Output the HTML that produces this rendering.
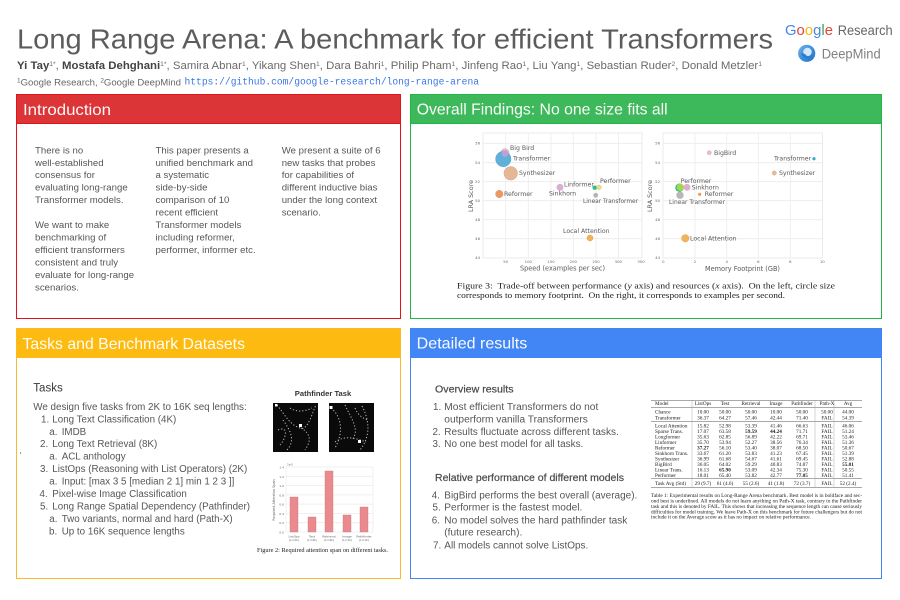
<!DOCTYPE html>
<html lang="en"><head><meta charset="utf-8"><title>Long Range Arena</title>
<style>
html,body{margin:0;padding:0;background:#fff}
svg{display:block}
text{font-family:"Liberation Sans",sans-serif;white-space:pre}
.b text{font-size:9.6px;fill:#565656;letter-spacing:.02px}
.l text{font-size:9.8px;fill:#565656}
.h{font-size:16px;fill:#fff;fill-opacity:.96}
.d text{font-family:"DejaVu Sans",sans-serif;font-size:6.2px;fill:#5a5a5a}
.t text,text.t{font-family:"DejaVu Sans",sans-serif;font-size:3.8px;fill:#666}
text.s,.s text{font-family:"Liberation Serif",serif;fill:#222}
.tb text{font-family:"Liberation Serif",serif;font-size:5.2px;fill:#222;text-anchor:middle}
.tb text.n{text-anchor:start}
.g{stroke:#ebebeb;stroke-width:.8;fill:none}
.pf{stroke:#bbb;stroke-width:1;fill:none;stroke-dasharray:1.2 2}
</style></head><body>
<svg width="900" height="600" viewBox="0 0 900 600" xmlns="http://www.w3.org/2000/svg">
<defs>
<filter id="blur" x="-5%" y="-5%" width="110%" height="110%"><feGaussianBlur stdDeviation=".3"/></filter>
<linearGradient id="dm" x1="0" y1="0" x2="1" y2="1"><stop offset="0" stop-color="#6db3ee"/><stop offset="1" stop-color="#1a6fc4"/></linearGradient>
</defs>
<rect width="900" height="600" fill="#fff"/>
<text x="17" y="48.5" font-size="27.5" fill="#5c5c5c" textLength="756" lengthAdjust="spacingAndGlyphs">Long Range Arena: A benchmark for efficient Transformers</text>
<text x="17" y="69" font-size="11" fill="#6a6a6a" textLength="745" lengthAdjust="spacingAndGlyphs"><tspan font-weight="bold" fill="#444">Yi Tay</tspan><tspan font-size="6.5" dy="-3">1*</tspan><tspan dy="3">, </tspan><tspan font-weight="bold" fill="#444">Mostafa Dehghani</tspan><tspan font-size="6.5" dy="-3">1*</tspan><tspan dy="3">, Samira Abnar</tspan><tspan font-size="6.5" dy="-3">1</tspan><tspan dy="3">, Yikang Shen</tspan><tspan font-size="6.5" dy="-3">1</tspan><tspan dy="3">, Dara Bahri</tspan><tspan font-size="6.5" dy="-3">1</tspan><tspan dy="3">, Philip Pham</tspan><tspan font-size="6.5" dy="-3">1</tspan><tspan dy="3">, Jinfeng Rao</tspan><tspan font-size="6.5" dy="-3">1</tspan><tspan dy="3">, Liu Yang</tspan><tspan font-size="6.5" dy="-3">1</tspan><tspan dy="3">, Sebastian Ruder</tspan><tspan font-size="6.5" dy="-3">2</tspan><tspan dy="3">, Donald Metzler</tspan><tspan font-size="6.5" dy="-3">1</tspan></text>
<text x="17" y="85.7" font-size="9.6" fill="#666" textLength="164" lengthAdjust="spacingAndGlyphs"><tspan font-size="6.5" dy="-3">1</tspan><tspan dy="3">Google Research, </tspan><tspan font-size="6.5" dy="-3">2</tspan><tspan dy="3">Google DeepMind</tspan></text>
<text x="184.5" y="84.7" style="font-family:'Liberation Mono',monospace" font-size="10" fill="#3b78e7" textLength="294.5" lengthAdjust="spacingAndGlyphs">https://github.com/google-research/long-range-arena</text>

<text x="785" y="35" font-size="14.5" textLength="48" lengthAdjust="spacingAndGlyphs"><tspan fill="#4285f4">G</tspan><tspan fill="#ea4335">o</tspan><tspan fill="#fbbc04">o</tspan><tspan fill="#4285f4">g</tspan><tspan fill="#34a853">l</tspan><tspan fill="#ea4335">e</tspan></text>
<text x="837.7" y="35" font-size="13.5" fill="#666" textLength="55" lengthAdjust="spacingAndGlyphs">Research</text>
<circle cx="806.7" cy="53.3" r="8.6" fill="url(#dm)"/><circle cx="807.5" cy="52" r="4.2" fill="#d5e7f8"/><path d="M801 53a6 6 0 0 0 11 2.5a5 5 0 0 1-7-1.5z" fill="#2a7fd0"/>
<text x="821.7" y="58.3" font-size="13.5" fill="#808080" textLength="59" lengthAdjust="spacingAndGlyphs">DeepMind</text>

<!-- panels -->
<rect x="16.5" y="94.5" width="384" height="224" fill="#fff" stroke="#e3121b"/>
<rect x="17" y="95" width="383" height="28" fill="#dc3538"/>
<path d="M17 123.5H400" stroke="#e3121b"/>
<text class="h" x="23" y="115" textLength="88" lengthAdjust="spacingAndGlyphs">Introduction</text>
<rect x="410.5" y="94.5" width="471" height="224" fill="#fff" stroke="#1fb847"/>
<rect x="411" y="95" width="470" height="28" fill="#3db85a"/>
<path d="M411 123.5H881" stroke="#1fb847"/>
<text class="h" x="416.7" y="114.7" textLength="251" lengthAdjust="spacingAndGlyphs">Overall Findings: No one size fits all</text>
<rect x="16.5" y="328.5" width="384" height="250" fill="#fff" stroke="#fcb92c"/>
<rect x="17" y="329" width="383" height="29" fill="#fdbb11"/>
<text class="h" x="22.5" y="349" textLength="222.5" lengthAdjust="spacingAndGlyphs">Tasks and Benchmark Datasets</text>
<rect x="410.5" y="328.5" width="471" height="250" fill="#fff" stroke="#4285f4"/>
<rect x="411" y="329" width="470" height="29" fill="#4285f4"/>
<text class="h" x="416.7" y="348.5" textLength="110.6" lengthAdjust="spacingAndGlyphs">Detailed results</text>

<!-- intro text -->
<g class="b">
<text x="35" y="153.3">There is no</text><text x="35" y="165.8">well-established</text><text x="35" y="178.2">consensus for</text><text x="35" y="190.7">evaluating long-range</text><text x="35" y="203.2">Transformer models.</text>
<text x="35" y="228">We want to make</text><text x="35" y="240.5">benchmarking of</text><text x="35" y="252.9">efficient transformers</text><text x="35" y="265.4">consistent and truly</text><text x="35" y="277.9">evaluate for long-range</text><text x="35" y="290.3">scenarios.</text>
<text x="155.5" y="153.3">This paper presents a</text><text x="155.5" y="165.8">unified benchmark and</text><text x="155.5" y="178.2">a systematic</text><text x="155.5" y="190.7">side-by-side</text><text x="155.5" y="203.2">comparison of 10</text><text x="155.5" y="215.6">recent efficient</text><text x="155.5" y="228">Transformer models</text><text x="155.5" y="240.5">including reformer,</text><text x="155.5" y="252.9">performer, informer etc.</text>
<text x="281.7" y="153.3">We present a suite of 6</text><text x="281.7" y="165.8">new tasks that probes</text><text x="281.7" y="178.2">for capabilities of</text><text x="281.7" y="190.7">different inductive bias</text><text x="281.7" y="203.2">under the long context</text><text x="281.7" y="215.6">scenario.</text>
</g>

<!-- left chart -->
<g filter="url(#blur)">
<rect x="483" y="133" width="159" height="125" fill="#fff" stroke="#ebebeb"/>
<path class="g" d="M505.7 133V258M528.3 133V258M551 133V258M573.3 133V258M596 133V258M618.3 133V258M483 143.3H642M483 162.7H642M483 181.7H642M483 200.7H642M483 219.7H642M483 238.7H642"/>
<g stroke-width=".5">
<circle cx="505" cy="152.7" r="4.2" fill="#f0b6dc" stroke="#cba"/>
<circle cx="503.3" cy="159" r="7.7" fill="#4ea8d8" fill-opacity=".9" stroke="#5b9ec6"/>
<circle cx="505" cy="153.5" r="3.4" fill="#b9a3d6"/>
<circle cx="510.7" cy="173.3" r="6.8" fill="#e5b797" stroke="#cfa88c"/>
<circle cx="499.3" cy="194" r="3.7" fill="#f0975a" stroke="#d88"/>
<circle cx="560" cy="187.3" r="3.2" fill="#e7a8d8" stroke="#bbb"/>
<circle cx="594.7" cy="187.7" r="2.2" fill="#2fbb8e"/>
<circle cx="599" cy="187.3" r="2.3" fill="#f2e26a" stroke="#bbb"/>
<circle cx="595.7" cy="195.3" r="2.4" fill="#b5b5b5"/>
<circle cx="590" cy="238" r="3" fill="#f3b456" stroke="#d4a050"/>
</g>
<g class="d">
<text x="510" y="150">Big Bird</text><text x="513" y="160.5">Transformer</text><text x="519" y="175">Synthesizer</text><text x="564" y="186.5">Linformer</text><text x="549" y="195.5">Sinkhorn</text><text x="504" y="196.2">Reformer</text><text x="600" y="183">Performer</text><text x="583" y="203" textLength="55" lengthAdjust="spacingAndGlyphs">Linear Transformer</text><text x="563" y="233">Local Attention</text>
<text x="520" y="270.5" style="font-size:6.8px" textLength="85" lengthAdjust="spacingAndGlyphs">Speed (examples per sec)</text>
<text transform="translate(473 196) rotate(-90)" text-anchor="middle" style="font-size:6.4px">LRA Score</text>
</g>
<g class="t" text-anchor="end"><text x="480" y="144.6">56</text><text x="480" y="164">54</text><text x="480" y="183">52</text><text x="480" y="202">50</text><text x="480" y="221">48</text><text x="480" y="240">46</text><text x="480" y="259">44</text></g>
<g class="t" text-anchor="middle"><text x="505.7" y="263">50</text><text x="528.3" y="263">100</text><text x="551" y="263">150</text><text x="573.3" y="263">200</text><text x="596" y="263">250</text><text x="618.3" y="263">300</text><text x="641" y="263">350</text></g>

<!-- right chart -->
<rect x="663" y="133" width="159.5" height="125" fill="#fff" stroke="#ebebeb"/>
<path class="g" d="M695 133V258M726.7 133V258M758.3 133V258M790.3 133V258M663 143.3H822M663 162.7H822M663 181.7H822M663 200.7H822M663 219.7H822M663 238.7H822"/>
<g stroke-width=".5">
<circle cx="709.3" cy="152.7" r="2" fill="#f0b6dc" stroke="#caa"/>
<circle cx="814" cy="158.7" r="1.6" fill="#3fa4d4"/>
<circle cx="774.3" cy="173" r="2.2" fill="#e5b797" stroke="#cba"/>
<circle cx="699.7" cy="194.3" r="1.6" fill="#f0975a"/>
<circle cx="687" cy="187.3" r="3.2" fill="#e7a8d8" stroke="#bbb"/>
<circle cx="679.5" cy="187.7" r="4.2" fill="#2fbb8e"/>
<circle cx="680.3" cy="187.3" r="3.7" fill="#a6d64f"/>
<circle cx="680" cy="195.3" r="3.7" fill="#b8b8b8"/>
<circle cx="685.3" cy="238.3" r="3.7" fill="#f3b456" stroke="#d4a050"/>
</g>
<g class="d">
<text x="714" y="154.8">BigBird</text><text x="774" y="160.3">Transformer</text><text x="779" y="175">Synthesizer</text><text x="680.7" y="183">Performer</text><text x="691.7" y="189.5">Sinkhorn</text><text x="704.7" y="196.2">Reformer</text><text x="669" y="204" textLength="56" lengthAdjust="spacingAndGlyphs">Linear Transformer</text><text x="690" y="240.5">Local Attention</text>
<text x="705" y="271" style="font-size:6.6px" textLength="75" lengthAdjust="spacingAndGlyphs">Memory Footprint (GB)</text>
<text transform="translate(652 196) rotate(-90)" text-anchor="middle" style="font-size:6.4px">LRA Score</text>
</g>
<g class="t" text-anchor="end"><text x="660" y="144.6">56</text><text x="660" y="164">54</text><text x="660" y="183">52</text><text x="660" y="202">50</text><text x="660" y="221">48</text><text x="660" y="240">46</text><text x="660" y="259">44</text></g>
<g class="t" text-anchor="middle"><text x="663.3" y="263">0</text><text x="695" y="263">2</text><text x="726.7" y="263">4</text><text x="758.3" y="263">6</text><text x="790.3" y="263">8</text><text x="822.3" y="263">10</text></g>
</g>
<text class="s" x="457" y="288.5" font-size="8.5" textLength="378" lengthAdjust="spacingAndGlyphs">Figure 3:  Trade-off between performance (<tspan font-style="italic">y</tspan> axis) and resources (<tspan font-style="italic">x</tspan> axis).  On the left, circle size</text>
<text class="s" x="457" y="298" font-size="8.5" textLength="328" lengthAdjust="spacingAndGlyphs">corresponds to memory footprint.  On the right, it corresponds to examples per second.</text>

<!-- tasks text -->
<g class="l">
<text x="33.3" y="391.7" style="font-size:11.5px;fill:#3a3a3a">Tasks</text>
<text x="33.3" y="410" textLength="213.4" lengthAdjust="spacingAndGlyphs">We design five tasks from 2K to 16K seq lengths:</text>
<text x="41" y="422.3">1.</text><text x="52.3" y="422.3">Long Text Classification (4K)</text>
<text x="49.3" y="435">a.</text><text x="61.7" y="435">IMDB</text>
<text x="40" y="447">2.</text><text x="52.3" y="447">Long Text Retrieval (8K)</text>
<text x="49.3" y="459.3">a.</text><text x="61.7" y="459.3">ACL anthology</text>
<text x="40" y="472">3.</text><text x="52.3" y="472">ListOps (Reasoning with List Operators) (2K)</text>
<text x="49.3" y="484.3">a.</text><text x="61.7" y="484.3">Input: [max 3 5 [median 2 1] min 1 2 3 ]]</text>
<text x="39.5" y="497">4.</text><text x="52.3" y="497">Pixel-wise Image Classification</text>
<text x="40" y="509.3">5.</text><text x="52.3" y="509.3">Long Range Spatial Dependency (Pathfinder)</text>
<text x="49.3" y="522">a.</text><text x="61.7" y="522">Two variants, normal and hard (Path-X)</text>
<text x="49" y="534.3">b.</text><text x="61.7" y="534.3">Up to 16K sequence lengths</text>
</g>
<rect x="20" y="452" width="1" height="2" fill="#999"/>

<!-- pathfinder -->
<text x="323" y="396" text-anchor="middle" font-size="7.6" font-weight="bold" fill="#333">Pathfinder Task</text>
<rect x="273" y="403" width="45" height="49" fill="#0a0a0a"/>
<rect x="329" y="403" width="45" height="49" fill="#0a0a0a"/>
<path class="pf" d="M277 405C285 415 290 425 300 428C308 432 313 410 316 405M283 420C290 430 296 440 287 450M301 428C310 433 312 440 305 450M278 430C290 425 285 440 280 445M290 408C296 412 304 412 312 408"/>
<rect x="299" y="424" width="3" height="3" fill="#fff"/>
<rect x="275" y="404" width="2.5" height="2.5" fill="#fff"/>
<path class="pf" d="M331 408C340 415 345 430 335 448M345 405C352 420 360 430 352 440M362 406C372 425 368 440 360 450M335 442C345 435 355 438 366 442M355 408C358 415 362 418 368 420"/>
<rect x="329.5" y="406" width="3" height="3" fill="#fff"/>
<rect x="358" y="440" width="3" height="3" fill="#fff"/>

<!-- bar chart -->
<g filter="url(#blur)">
<rect x="286" y="467" width="87" height="65" fill="#fff" stroke="#e8e8e8" stroke-width=".6"/>
<path class="g" d="M286 476.3H373M286 485.6H373M286 494.9H373M286 504.1H373M286 513.4H373M286 522.7H373"/>
<g fill="#ea8a8e" stroke="#c9797c" stroke-width=".4">
<rect x="290" y="497" width="8" height="35"/><rect x="308" y="517" width="8" height="15"/><rect x="325" y="471" width="8" height="61"/><rect x="343" y="515" width="8" height="17"/><rect x="360" y="507" width="8" height="25"/>
</g>
<g class="t" text-anchor="end"><text x="284" y="468.5" style="font-size:3px">1.4</text><text x="284" y="477.8" style="font-size:3px">1.2</text><text x="284" y="487" style="font-size:3px">1.0</text><text x="284" y="496.4" style="font-size:3px">0.8</text><text x="284" y="505.6" style="font-size:3px">0.6</text><text x="284" y="515" style="font-size:3px">0.4</text><text x="284" y="524.2" style="font-size:3px">0.2</text><text x="284" y="533.5" style="font-size:3px">0.0</text></g>
<g class="t" text-anchor="middle"><text x="294" y="537.5" style="font-size:3px">ListOps</text><text x="294" y="541" style="font-size:3px">(L=2k)</text><text x="312" y="537.5" style="font-size:3px">Text</text><text x="312" y="541" style="font-size:3px">(L=4k)</text><text x="329" y="537.5" style="font-size:3px">Retrieval</text><text x="329" y="541" style="font-size:3px">(L=4k)</text><text x="347" y="537.5" style="font-size:3px">Image</text><text x="347" y="541" style="font-size:3px">(L=1k)</text><text x="364" y="537.5" style="font-size:3px">Pathfinder</text><text x="364" y="541" style="font-size:3px">(L=1k)</text></g>
<text class="t" transform="translate(275 500) rotate(-90)" text-anchor="middle" style="font-size:3.4px">Required Attention Span</text>
<text class="t" x="287" y="465.5" style="font-size:3px">1e3</text>
</g>
<text class="s" x="257" y="552" font-size="6.4" textLength="131" lengthAdjust="spacingAndGlyphs">Figure 2: Required attention span on different tasks.</text>

<!-- detailed text -->
<g class="l">
<text x="435" y="392.7" stroke="#4a4a4a" stroke-width=".2" style="fill:#4a4a4a" textLength="78.5" lengthAdjust="spacingAndGlyphs">Overview results</text>
<text x="433" y="410">1.</text><text x="444.3" y="410" textLength="154" lengthAdjust="spacingAndGlyphs">Most efficient Transformers do not</text>
<text x="444.3" y="422.3" textLength="143.5" lengthAdjust="spacingAndGlyphs">outperform vanilla Transformers</text>
<text x="432.5" y="435">2.</text><text x="444.3" y="435" textLength="174.5" lengthAdjust="spacingAndGlyphs">Results fluctuate across different tasks.</text>
<text x="432.5" y="447">3.</text><text x="444.3" y="447" textLength="139" lengthAdjust="spacingAndGlyphs">No one best model for all tasks.</text>
<text x="435" y="481" stroke="#4a4a4a" stroke-width=".2" style="fill:#4a4a4a" textLength="189" lengthAdjust="spacingAndGlyphs">Relative performance of different models</text>
<text x="431.7" y="498.3">4.</text><text x="444.3" y="498.3" textLength="193" lengthAdjust="spacingAndGlyphs">BigBird performs the best overall (average).</text>
<text x="432.5" y="510.7">5.</text><text x="444.3" y="510.7" textLength="138" lengthAdjust="spacingAndGlyphs">Performer is the fastest model.</text>
<text x="431.7" y="523.3">6.</text><text x="444.3" y="523.3" textLength="183" lengthAdjust="spacingAndGlyphs">No model solves the hard pathfinder task</text>
<text x="444.3" y="535.7" textLength="78" lengthAdjust="spacingAndGlyphs">(future research).</text>
<text x="433" y="548.3">7.</text><text x="444.3" y="548.3" textLength="144" lengthAdjust="spacingAndGlyphs">All models cannot solve ListOps.</text>
</g>

<!-- table -->
<path d="M651 400.5H862M651 407.5H862M651 421.5H862M651 478.5H862M651 487.5H862" stroke="#555" stroke-width=".6" fill="none"/>
<path d="M692 400V488M815 400V488M834 400V488" stroke="#999" stroke-width=".4" fill="none"/>
<g class="tb">
<g><text class="n" x="655" y="405">Model</text><text x="703" y="405">ListOps</text><text x="725" y="405">Test</text><text x="751" y="405">Retrieval</text><text x="776" y="405">Image</text><text x="802" y="405">Pathfinder</text><text x="827" y="405">Path-X</text><text x="848" y="405">Avg</text></g>
<g><text class="n" x="655" y="413.5">Chance</text><text x="703" y="413.5">10.00</text><text x="725" y="413.5">50.00</text><text x="751" y="413.5">50.00</text><text x="776" y="413.5">10.00</text><text x="802" y="413.5">50.00</text><text x="827" y="413.5">50.00</text><text x="848" y="413.5">44.00</text></g>
<g><text class="n" x="655" y="419.5">Transformer</text><text x="703" y="419.5">36.37</text><text x="725" y="419.5">64.27</text><text x="751" y="419.5">57.46</text><text x="776" y="419.5">42.44</text><text x="802" y="419.5">71.40</text><text x="827" y="419.5">FAIL</text><text x="848" y="419.5">54.39</text></g>
<g><text class="n" x="655" y="427.5">Local Attention</text><text x="703" y="427.5">15.82</text><text x="725" y="427.5">52.98</text><text x="751" y="427.5">53.39</text><text x="776" y="427.5">41.46</text><text x="802" y="427.5">66.63</text><text x="827" y="427.5">FAIL</text><text x="848" y="427.5">46.06</text></g>
<g><text class="n" x="655" y="433">Sparse Trans.</text><text x="703" y="433">17.07</text><text x="725" y="433">63.58</text><text x="751" y="433" font-weight="bold">59.59</text><text x="776" y="433" font-weight="bold">44.24</text><text x="802" y="433">71.71</text><text x="827" y="433">FAIL</text><text x="848" y="433">51.24</text></g>
<g><text class="n" x="655" y="438.5">Longformer</text><text x="703" y="438.5">35.63</text><text x="725" y="438.5">62.85</text><text x="751" y="438.5">56.89</text><text x="776" y="438.5">42.22</text><text x="802" y="438.5">69.71</text><text x="827" y="438.5">FAIL</text><text x="848" y="438.5">53.46</text></g>
<g><text class="n" x="655" y="444">Linformer</text><text x="703" y="444">35.70</text><text x="725" y="444">53.94</text><text x="751" y="444">52.27</text><text x="776" y="444">38.56</text><text x="802" y="444">76.34</text><text x="827" y="444">FAIL</text><text x="848" y="444">51.36</text></g>
<g><text class="n" x="655" y="449.5">Reformer</text><text x="703" y="449.5" font-weight="bold">37.27</text><text x="725" y="449.5">56.10</text><text x="751" y="449.5">53.40</text><text x="776" y="449.5">38.07</text><text x="802" y="449.5">68.50</text><text x="827" y="449.5">FAIL</text><text x="848" y="449.5">50.67</text></g>
<g><text class="n" x="655" y="455">Sinkhorn Trans.</text><text x="703" y="455">33.67</text><text x="725" y="455">61.20</text><text x="751" y="455">53.83</text><text x="776" y="455">41.23</text><text x="802" y="455">67.45</text><text x="827" y="455">FAIL</text><text x="848" y="455">51.39</text></g>
<g><text class="n" x="655" y="460.5">Synthesizer</text><text x="703" y="460.5">36.99</text><text x="725" y="460.5">61.68</text><text x="751" y="460.5">54.67</text><text x="776" y="460.5">41.61</text><text x="802" y="460.5">69.45</text><text x="827" y="460.5">FAIL</text><text x="848" y="460.5">52.88</text></g>
<g><text class="n" x="655" y="466">BigBird</text><text x="703" y="466">36.05</text><text x="725" y="466">64.02</text><text x="751" y="466">59.29</text><text x="776" y="466">40.83</text><text x="802" y="466">74.87</text><text x="827" y="466">FAIL</text><text x="848" y="466" font-weight="bold">55.01</text></g>
<g><text class="n" x="655" y="471.5">Linear Trans.</text><text x="703" y="471.5">16.13</text><text x="725" y="471.5" font-weight="bold">65.90</text><text x="751" y="471.5">53.09</text><text x="776" y="471.5">42.34</text><text x="802" y="471.5">75.30</text><text x="827" y="471.5">FAIL</text><text x="848" y="471.5">50.55</text></g>
<g><text class="n" x="655" y="477">Performer</text><text x="703" y="477">18.01</text><text x="725" y="477">65.40</text><text x="751" y="477">53.82</text><text x="776" y="477">42.77</text><text x="802" y="477" font-weight="bold">77.05</text><text x="827" y="477">FAIL</text><text x="848" y="477">51.41</text></g>
<g><text class="n" x="655" y="485">Task Avg (Std)</text><text x="703" y="485">29 (9.7)</text><text x="725" y="485">61 (4.6)</text><text x="751" y="485">55 (2.6)</text><text x="776" y="485">41 (1.8)</text><text x="802" y="485">72 (3.7)</text><text x="827" y="485">FAIL</text><text x="848" y="485">52 (2.4)</text></g>
</g>
<g class="s" font-size="5.2">
<text x="651" y="497" textLength="211" lengthAdjust="spacingAndGlyphs">Table 1: Experimental results on Long-Range Arena benchmark. Best model is in boldface and sec-</text>
<text x="651" y="502.5" textLength="211" lengthAdjust="spacingAndGlyphs">ond best is underlined. All models do not learn anything on Path-X task, contrary to the Pathfinder</text>
<text x="651" y="507.9" textLength="211" lengthAdjust="spacingAndGlyphs">task and this is denoted by FAIL. This shows that increasing the sequence length can cause seriously</text>
<text x="651" y="513.3" textLength="211" lengthAdjust="spacingAndGlyphs">difficulties for model training. We leave Path-X on this benchmark for future challengers but do not</text>
<text x="651" y="518.7" textLength="160" lengthAdjust="spacingAndGlyphs">include it on the Average score as it has no impact on relative performance.</text>
</g>
</svg>
</body></html>
